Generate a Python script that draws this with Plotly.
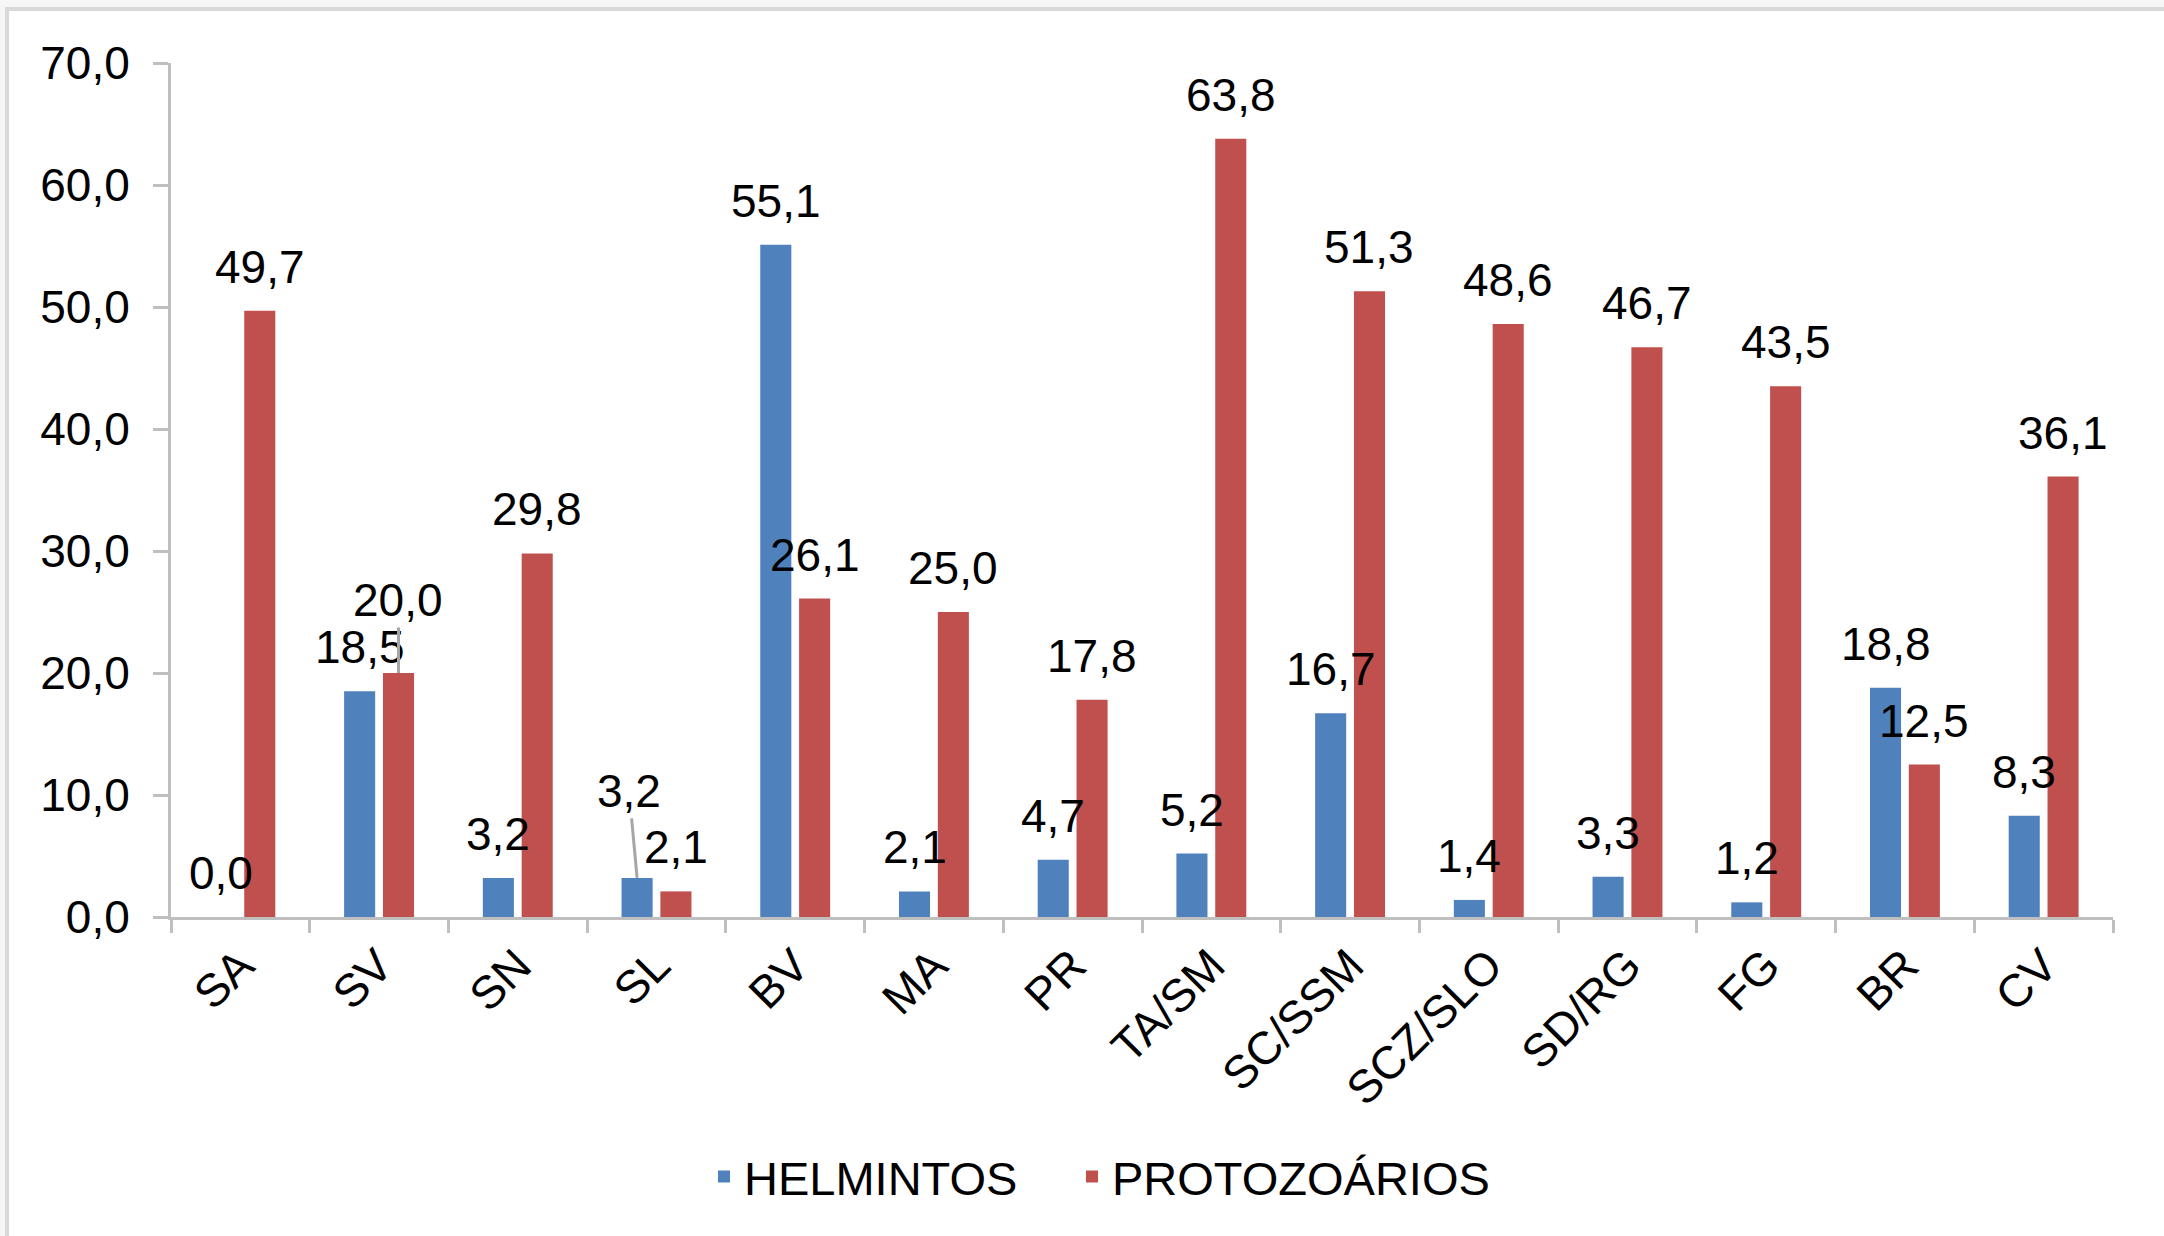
import plotly.graph_objects as go

# ---- data -------------------------------------------------------------
categories = ["SA", "SV", "SN", "SL", "BV", "MA", "PR", "TA/SM",
              "SC/SSM", "SCZ/SLO", "SD/RG", "FG", "BR", "CV"]
helmintos = [0.0, 18.5, 3.2, 3.2, 55.1, 2.1, 4.7, 5.2, 16.7, 1.4, 3.3, 1.2, 18.8, 8.3]
protozoarios = [49.7, 20.0, 29.8, 2.1, 26.1, 25.0, 17.8, 63.8, 51.3, 48.6, 46.7, 43.5, 12.5, 36.1]
y_tick_values = [0, 10, 20, 30, 40, 50, 60, 70]

series_names = ["HELMINTOS", "PROTOZOÁRIOS"]
series_values = [helmintos, protozoarios]
series_colors = ["#4F81BD", "#C0504D"]

# labels pulled away from their bar and tied back with a leader line:
# (series index, category index) -> (dx, dy) in pixels
leader_offsets = {(1, 1): (0, -73), (0, 3): (-8, -87)}

# ---- style ------------------------------------------------------------
FONT = "Arial, 'Liberation Sans', sans-serif"
FS = 46
LEGEND_FS = 47
AXIS_GREY = "#BFBFBF"
BARGAP = 0.44
BARGROUPGAP = 0.2
LABEL_LIFT = 44

W, H = 2164, 1236
M = dict(l=171, r=51, t=63, b=319)
LEGEND_LEFT_PX = [704, 1072]   # left edge of each legend entry
LEGEND_MID_Y_PX = 1177


def fmt(v):
    return f"{v:.1f}".replace(".", ",")


plot_w = W - M["l"] - M["r"]
plot_h = H - M["t"] - M["b"]


def px_to_paper_x(px):
    return (px - M["l"]) / plot_w


def px_to_paper_y(py):
    return (H - M["b"] - py) / plot_h


legend_ids = ["legend", "legend2"]

fig = go.Figure()
for name, vals, col, lg in zip(series_names, series_values, series_colors, legend_ids):
    fig.add_trace(go.Bar(
        x=categories, y=vals, name=name, legend=lg,
        marker=dict(color=col, line=dict(width=0)),
        hoverinfo="skip",
    ))

# value labels above each bar
slot = (1 - BARGAP) / 4
annotations = []
for s, vals in enumerate(series_values):
    side = -1 if s == 0 else 1
    for i, v in enumerate(vals):
        xpos = i + side * slot
        if (s, i) in leader_offsets:
            dx, dy = leader_offsets[(s, i)]
            annotations.append(dict(
                x=xpos, y=v, xref="x", yref="y", text=fmt(v),
                showarrow=True, arrowhead=0, arrowwidth=3, arrowcolor="#A6A6A6",
                ax=dx, ay=dy, standoff=0,
                font=dict(family=FONT, size=FS, color="black"),
            ))
        else:
            annotations.append(dict(
                x=xpos, y=v, xref="x", yref="y", text=fmt(v),
                showarrow=False, yanchor="middle", xanchor="center",
                yshift=LABEL_LIFT,
                font=dict(family=FONT, size=FS, color="black"),
            ))

# chart frame (light border around the whole chart)
shapes = [
    dict(type="rect", xref="paper", yref="paper", layer="below",
         x0=px_to_paper_x(7), x1=px_to_paper_x(W + 20),
         y0=px_to_paper_y(H + 20), y1=px_to_paper_y(9),
         line=dict(color="#D9D9D9", width=4), fillcolor="white"),
]


def legend_box(left_px):
    return dict(
        orientation="h", x=px_to_paper_x(left_px), xanchor="left",
        y=px_to_paper_y(LEGEND_MID_Y_PX), yanchor="middle",
        font=dict(family=FONT, size=LEGEND_FS, color="black"),
        bgcolor="rgba(0,0,0,0)",
    )


fig.update_layout(
    width=W, height=H,
    margin=M,
    paper_bgcolor="#F6F6F6",
    plot_bgcolor="rgba(0,0,0,0)",
    separators=",.",
    barmode="group",
    bargap=BARGAP,
    bargroupgap=BARGROUPGAP,
    font=dict(family=FONT, size=FS, color="black"),
    showlegend=True,
    legend=legend_box(LEGEND_LEFT_PX[0]),
    legend2=legend_box(LEGEND_LEFT_PX[1]),
    annotations=annotations,
    shapes=shapes,
    xaxis=dict(
        type="category",
        showline=True, linecolor=AXIS_GREY, linewidth=3,
        ticks="outside", tickson="boundaries", ticklen=13,
        tickwidth=3, tickcolor=AXIS_GREY,
        tickangle=-45,
        tickfont=dict(family=FONT, size=FS, color="black"),
        showgrid=False, zeroline=False,
    ),
    yaxis=dict(
        range=[0, 70], tickvals=y_tick_values, tickformat=".1f",
        showline=True, linecolor=AXIS_GREY, linewidth=3,
        ticks="outside", ticklen=15, tickwidth=3, tickcolor=AXIS_GREY,
        ticklabelstandoff=14,
        tickfont=dict(family=FONT, size=FS, color="black"),
        showgrid=False, zeroline=False,
    ),
)

fig.write_html("out.html")
